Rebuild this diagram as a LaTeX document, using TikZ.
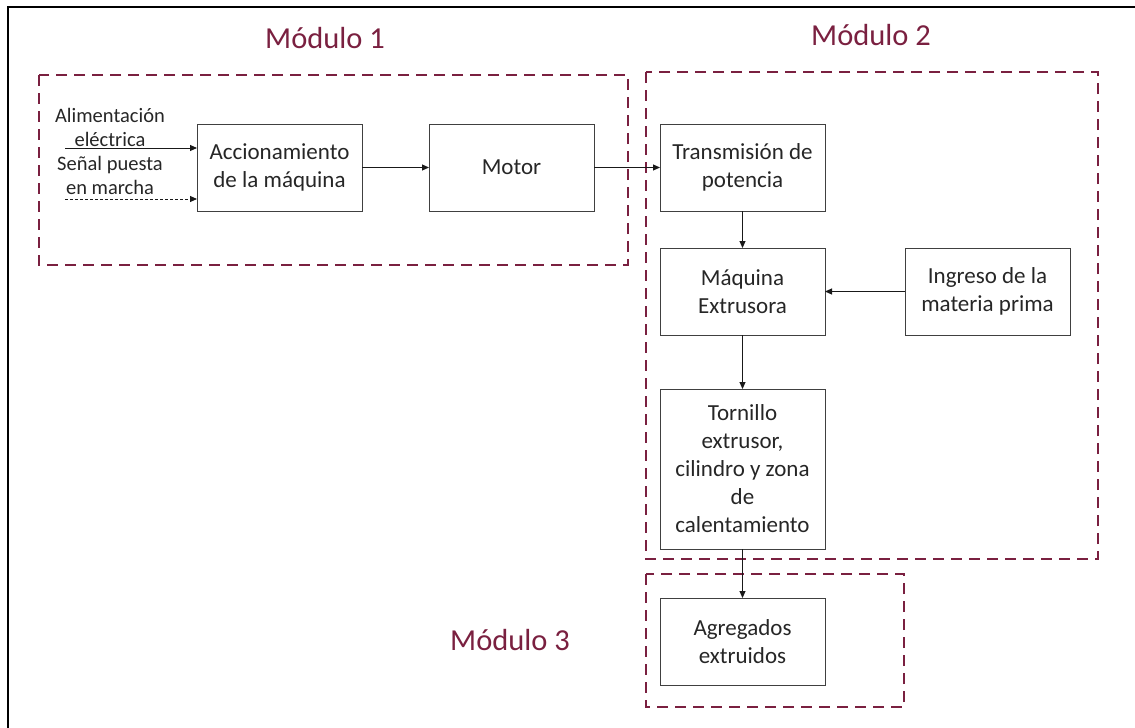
\documentclass[tikz,border=0pt]{standalone}
\usepackage{fontspec}
\setmainfont{Carlito}
\usetikzlibrary{positioning,arrows.meta}
\definecolor{modcolor}{RGB}{122,32,64}

\begin{document}
\begin{tikzpicture}[x=1pt,y=-1pt,>={Triangle[length=7pt,width=6pt]},
    main node/.style={draw=black!75,line width=1pt,outer sep=0pt,minimum width=165pt,minimum height=87pt,align=center,text=black!85,font=\fontsize{23}{28}\selectfont},
    in label/.style={align=center,anchor=south,inner sep=0pt,text=black!85,font=\fontsize{20.5}{24}\selectfont},
    mod box/.style={draw=modcolor,line width=2.4pt,dash pattern=on 11pt off 7pt},
    mod label/.style={text=modcolor,font=\fontsize{30.5}{36}\selectfont},
    flow/.style={->,line width=0.9pt,black!90}]
    \useasboundingbox (0,0) rectangle (1135,728);
    \draw[line width=2pt] (8,728) -- (8,7) -- (1135,7);

    \node[main node] (acc) at (279.5,167.5) {Accionamiento\\de la máquina};
    \node[main node] (motor) [right=67pt of acc] {Motor};
    \node[main node] (trans) [right=66pt of motor] {Transmisión de\\potencia};
    \node[main node] (maq) [below=37pt of trans] {Máquina\\Extrusora};
    \node[main node] (ingreso) [right=80pt of maq] {Ingreso de la\\materia prima};
    \node[main node,minimum height=160pt] (torn) [below=54pt of maq] {Tornillo\\extrusor,\\cilindro y zona\\de\\calentamiento};
    \node[main node] (agreg) [below=49pt of torn] {Agregados\\extruidos};

    \coordinate (in1) at (65,148);
    \coordinate (in2) at (65,199);
    \node[in label] (alim) at (110,147) {Alimentación\\eléctrica};
    \node[in label] (senal) at (110,195) {Señal puesta\\en marcha};

    \draw[mod box] (39,75) rectangle (628,265);
    \draw[mod box] (646,72) rectangle (1098,559);
    \draw[mod box] (646,574) rectangle (904,707);
    \node[mod label] (m1) at (325,38) {Módulo 1};
    \node[mod label] (m2) at (871,35) {Módulo 2};
    \node[mod label] (m3) at (510,640) {Módulo 3};

    \draw[flow] (in1) -- (in1 -| acc.west);
    \draw[flow,dash pattern=on 3pt off 2pt] (in2) -- (in2 -| acc.west);
    \draw[flow] (acc) -- (motor);
    \draw[flow] (motor) -- (trans);
    \draw[flow] (trans) -- (maq);
    \draw[flow] (ingreso) -- (maq);
    \draw[flow] (maq) -- (torn);
    \draw[flow] (torn) -- (agreg);
\end{tikzpicture}
\end{document}
